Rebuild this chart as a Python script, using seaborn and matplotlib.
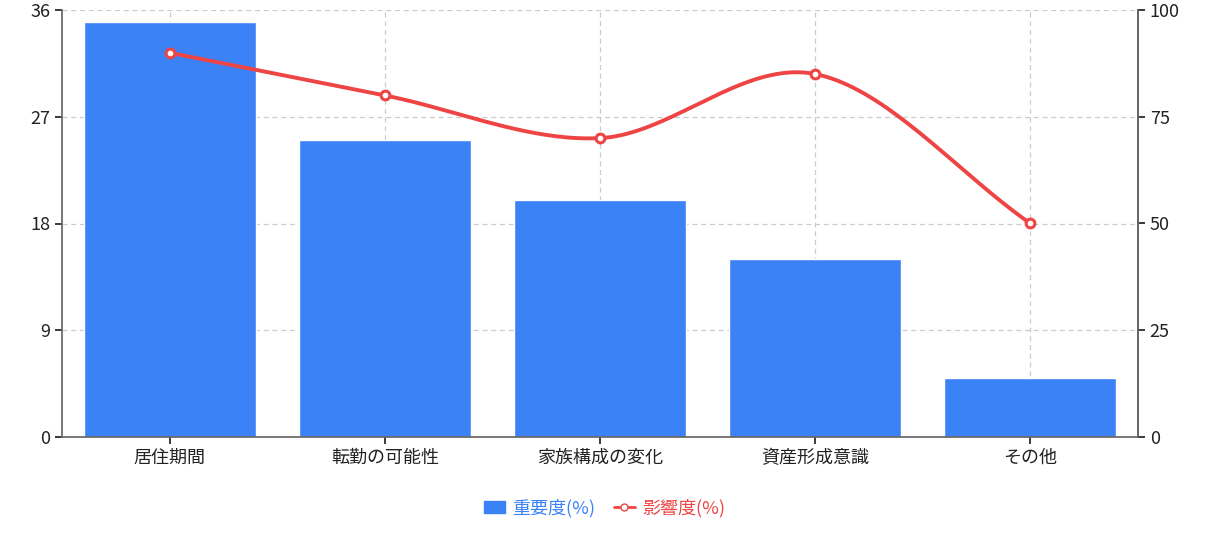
import numpy as np
import matplotlib
matplotlib.use('Agg')
import matplotlib.pyplot as plt
import seaborn as sns
from matplotlib.lines import Line2D
from matplotlib.patches import Patch

categories = ['居住期間', '転勤の可能性', '家族構成の変化', '資産形成意識', 'その他']
importance = [35, 25, 20, 15, 5]
impact = [90, 80, 70, 85, 50]

sns.set_theme(style='white')
plt.rcParams['font.family'] = ['Noto Sans CJK JP', 'DejaVu Sans']

BLUE = '#3b82f6'
RED = '#ef4444'

fig = plt.figure(figsize=(12.09, 5.34), dpi=100)
ax = fig.add_axes([62 / 1209, 1 - 437 / 534, (1138 - 62) / 1209, 427 / 534])
x = np.arange(len(categories))
sns.barplot(x=categories, y=importance, color=BLUE, width=0.8, saturation=1, ax=ax, zorder=2)
ax.set_ylim(0, 36)
ax.set_yticks([0, 9, 18, 27, 36])
ax.set_xlim(-0.5, len(categories) - 0.5)
ax.grid(True, linestyle=(0, (4, 3)), color='#cccccc', linewidth=0.9, zorder=0)
ax.set_axisbelow(True)
for s in ['left', 'bottom', 'right']:
    ax.spines[s].set_color('#666666')
ax.spines['top'].set_visible(False)
ax.tick_params(axis='both', labelsize=13, colors='#222222', length=5, left=True, bottom=True)
ax.set_xlabel(''); ax.set_ylabel('')

ax2 = ax.twinx()
ax2.set_ylim(0, 100)
ax2.set_yticks([0, 25, 50, 75, 100])
ax2.tick_params(axis='y', labelsize=13, colors='#222222', length=5, right=True)
for s in ax2.spines.values():
    s.set_visible(False)
ax2.spines['right'].set_visible(True); ax2.spines['right'].set_color('#666666')

# smooth curve (Catmull-Rom) through the points
px = x.astype(float); py = np.array(impact, dtype=float)
P = np.vstack([px, py]).T
P = np.vstack([2 * P[0] - P[1], P, 2 * P[-1] - P[-2]])
xs, ys = [], []
t = np.linspace(0, 1, 40)
for i in range(1, len(P) - 2):
    p0, p1, p2, p3 = P[i - 1], P[i], P[i + 1], P[i + 2]
    m1 = (p2 - p0) / 2; m2 = (p3 - p1) / 2
    h00 = 2 * t**3 - 3 * t**2 + 1; h10 = t**3 - 2 * t**2 + t
    h01 = -2 * t**3 + 3 * t**2; h11 = t**3 - t**2
    seg = np.outer(h00, p1) + np.outer(h10, m1) + np.outer(h01, p2) + np.outer(h11, m2)
    xs.extend(seg[:, 0]); ys.extend(seg[:, 1])
sns.lineplot(x=xs, y=ys, color=RED, linewidth=2.8, ax=ax2, sort=False, estimator=None)
ax2.scatter(px, py, s=40, facecolor='white', edgecolor=RED, linewidth=2.2, zorder=5)

handles = [Patch(facecolor=BLUE, edgecolor=BLUE),
           Line2D([0], [0], color=RED, lw=2, marker='o', markersize=5,
                  markerfacecolor='white', markeredgecolor=RED)]
leg = fig.legend(handles, ['重要度(%)', '影響度(%)'], loc='center', bbox_to_anchor=(0.5, 1 - 508 / 534),
                 ncol=2, frameon=False, fontsize=13, handlelength=1.2, columnspacing=1.0, handletextpad=0.4)
for txt, c in zip(leg.get_texts(), [BLUE, RED]):
    txt.set_color(c)

fig.savefig('out.png', dpi=100)
